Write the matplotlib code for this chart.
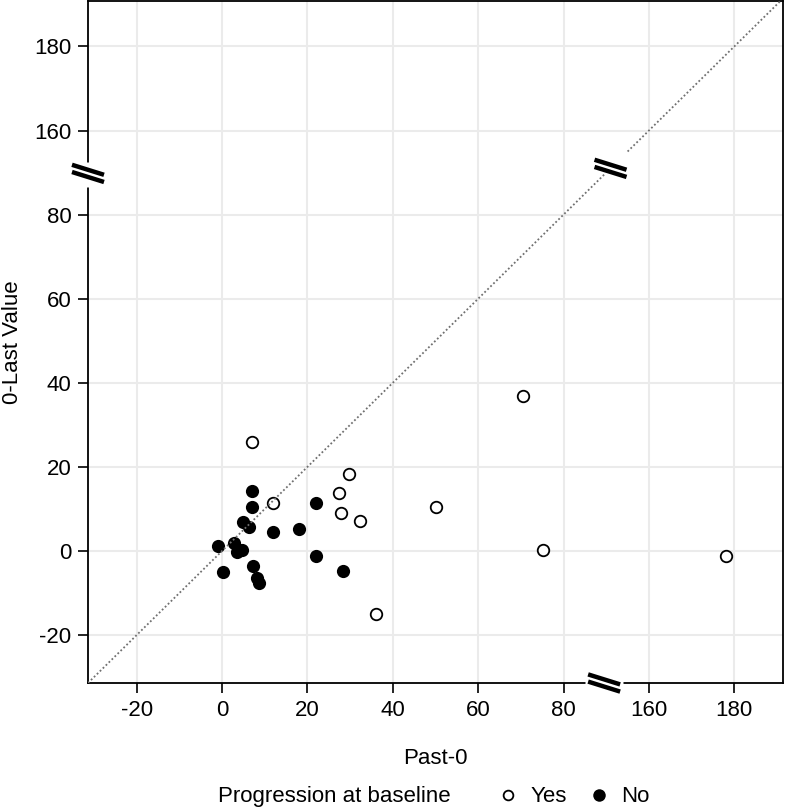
import matplotlib
matplotlib.use('Agg')
import matplotlib.pyplot as plt
import numpy as np
from matplotlib.lines import Line2D
from matplotlib.transforms import ScaledTranslation

plt.rcParams['font.family'] = ['Liberation Sans', 'DejaVu Sans']
plt.rcParams['font.size'] = 16

yes_x = [7.1, 11.9, 29.7, 27.5, 27.8, 32.3, 36.1, 50.1, 70.4, 75.1, 178.1]
yes_y = [25.9, 11.3, 18.3, 13.9, 9.1, 7.2, -15.0, 10.4, 36.8, 0.2, -1.3]

no_x = [7.1, 7.0, 5.0, 6.2, 11.9, 18.0, 21.9, -0.9, 2.7, 3.4, 4.6, 0.3, 7.3, 8.3, 8.7, 22.0, 28.4]
no_y = [14.3, 10.5, 6.9, 5.8, 4.6, 5.3, 11.3, 1.2, 2.0, -0.2, 0.2, -4.9, -3.6, -6.5, -7.7, -1.3, -4.7]

tick_vals = [-20, 0, 20, 40, 60, 80, 160, 180]

# axis break: everything above 90 is pulled down by 60
BREAK = 90
SHIFT = 60


def brk(v):
    v = np.asarray(v, dtype=float)
    return np.where(v > BREAK, v - SHIFT, v)


lo, hi = -31.4, 131.4

fig = plt.figure(figsize=(7.88, 8.10), dpi=100)
ax = fig.add_axes([88 / 788, 1 - 683 / 810, 695 / 788, 682 / 810])
ax.set_xlim(lo, hi)
ax.set_ylim(lo, 130.8)

ax.set_xticks(brk(tick_vals))
ax.set_xticklabels([str(t) for t in tick_vals])
ax.set_yticks(brk(tick_vals))
ax.set_yticklabels([str(t) for t in tick_vals])
ax.grid(True, color='#ebebeb', lw=1.5)
ax.set_axisbelow(True)
ax.tick_params(direction='out', length=7, width=1.2, pad=5, colors='black')
for s in ax.spines.values():
    s.set_linewidth(1.3)
    s.set_color('black')

ax.plot(brk(yes_x), brk(yes_y), 'o', ms=8.3, mfc='white', mec='black', mew=1.3, zorder=3)
ax.plot(brk(no_x), brk(no_y), 'o', ms=9.5, mfc='black', mec='black', mew=0, zorder=3)

# identity line with a gap at the break
for a, b in [(lo, 89.5), (95, hi)]:
    ax.plot([a, b], [a, b], color='#707070', lw=1.3, ls=(0, (1, 1.3)), zorder=4)

# gaps in the axis lines
ax.plot([85, 94], [lo, lo], color='white', lw=5, clip_on=False, zorder=5, solid_capstyle='butt')
ax.plot([lo, lo], [86.5, 92.5], color='white', lw=5, clip_on=False, zorder=5, solid_capstyle='butt')


def brkmark(x, y):
    tr = fig.dpi_scale_trans + ScaledTranslation(x, y, ax.transData)
    for off in (0.036, -0.036):
        ax.plot([-0.16, 0.16], [0.05 + off, -0.05 + off], transform=tr, color='black',
                lw=3.2, solid_capstyle='butt', clip_on=False, zorder=6)


brkmark(89.5, lo)
brkmark(lo, 89.8)
brkmark(91, 91)

ax.set_xlabel('Past-0', labelpad=20)
ax.set_ylabel('0-Last Value')
ax.yaxis.set_label_coords(-0.094, 0.5)

fig.text(218 / 788, 1 - 802 / 810, 'Progression at baseline', ha='left', va='baseline')
handles = [Line2D([], [], ls='none', marker='o', ms=7, mfc='white', mec='black', mew=1.3),
           Line2D([], [], ls='none', marker='o', ms=9, mfc='black', mec='black', mew=0)]
fig.legend(handles, ['Yes', 'No'], loc='center left', bbox_to_anchor=(497 / 788, 1 - 797 / 810),
           ncol=2, frameon=False, borderpad=0, borderaxespad=0, handlelength=1,
           handletextpad=0.5, columnspacing=0.95, fontsize=16)

fig.savefig('out.png', dpi=100)
